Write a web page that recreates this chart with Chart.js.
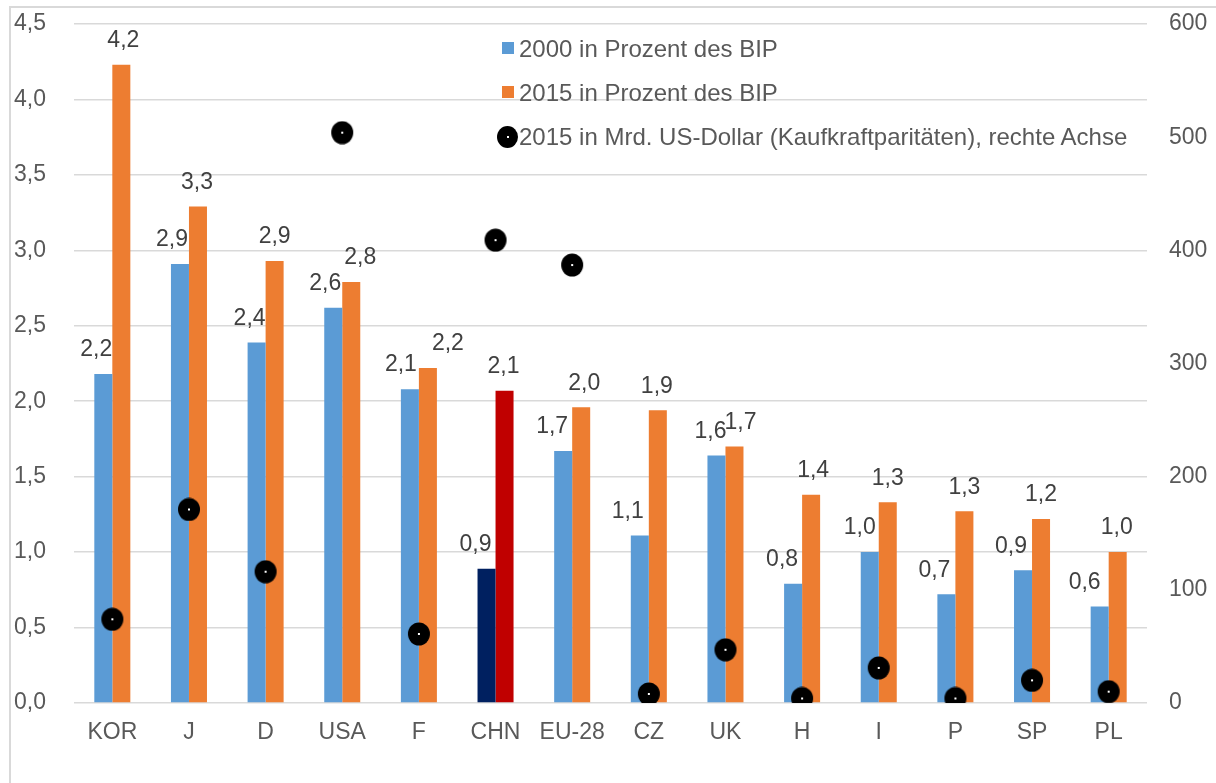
<!DOCTYPE html>
<html lang="de">
<head>
  <meta charset="UTF-8">
  <title>FuE-Ausgaben 2000 / 2015</title>
  <script src="https://cdn.jsdelivr.net/npm/chart.js"></script>
  <style>
    body {
      margin: 0;
      background: #ffffff;
      font-family: "Liberation Sans", Arial, sans-serif;
    }
    .wrap {
      position: relative;
      width: 1216px;
      height: 783px;
    }
    .frame {
      position: absolute;
      left: 9px;
      top: 6px;
      width: 1300px;
      height: 900px;
      border-left: 2px solid #d9d9d9;
      border-top: 2px solid #d9d9d9;
      pointer-events: none;
    }
    canvas {
      position: absolute;
      left: 0;
      top: 0;
    }
    .legend {
      position: absolute;
      left: 490px;
      top: 27px;
      color: #595959;
      font-size: 24px;
    }
    .legend .item {
      position: relative;
      height: 44px;
      line-height: 44px;
      padding-left: 29px;
      white-space: nowrap;
    }
    .legend .box {
      position: absolute;
      left: 12px;
      top: 15px;
      width: 12px;
      height: 12px;
    }
    .legend .dot {
      position: absolute;
      left: 7px;
      top: 11px;
      width: 21px;
      height: 22px;
      border-radius: 50%;
      background: #000;
    }
    .legend .dot::after {
      content: "";
      position: absolute;
      left: 10px;
      top: 10px;
      width: 2px;
      height: 2px;
      background: #fff;
    }
  </style>
</head>
<body>

  <div class="wrap">
    <canvas id="chart" width="1216" height="783"></canvas>
    <div class="frame"></div>
    <div class="legend">
      <div class="item"><span class="box" style="background:#5b9bd5"></span>2000 in Prozent des BIP</div>
      <div class="item"><span class="box" style="background:#ed7d31"></span>2015 in Prozent des BIP</div>
      <div class="item"><span class="dot"></span>2015 in Mrd. US-Dollar (Kaufkraftparitäten), rechte Achse</div>
    </div>
  </div>

  <script>
    const countries = ['KOR', 'J', 'D', 'USA', 'F', 'CHN', 'EU-28', 'CZ', 'UK', 'H', 'I', 'P', 'SP', 'PL'];

    // Anteil am BIP in Prozent
    const pct2000 = [2.18, 2.91, 2.39, 2.62, 2.08, 0.89, 1.67, 1.11, 1.64, 0.79, 1.00, 0.72, 0.88, 0.64];
    const pct2015 = [4.23, 3.29, 2.93, 2.79, 2.22, 2.07, 1.96, 1.94, 1.70, 1.38, 1.33, 1.27, 1.22, 1.00];

    // Mrd. US-Dollar (KKP), rechte Achse
    const usd2015 = [74, 171, 116, 504, 61, 409, 387, 8, 47, 4, 31, 4, 20, 10];

    const leftTicks = [0, 0.5, 1, 1.5, 2, 2.5, 3, 3.5, 4, 4.5];
    const rightTicks = [0, 100, 200, 300, 400, 500, 600];

    // CHN hervorgehoben
    const blueColors = countries.map(c => c === 'CHN' ? '#002060' : '#5b9bd5');
    const orangeColors = countries.map(c => c === 'CHN' ? '#c00000' : '#ed7d31');

    // Verschiebung der Beschriftungen (wie im Original von Hand gesetzt)
    const nudge2000 = [-7, -8, -7, -8, -9, -11, -11, -12, -6, -11, -10, -12, -12, -15];
    const nudge2015 = [2, -1, 0, 9, 20, -1, 3, -1, 6, 2, 0, 0, 0, -1];

    const fmt = v => v.toFixed(1).replace('.', ',');

    // schwarzer Punkt mit weißem Kern
    const dotImg = document.createElement('canvas');
    dotImg.width = 24;
    dotImg.height = 24;
    {
      const c = dotImg.getContext('2d');
      c.fillStyle = '#000';
      c.beginPath();
      c.ellipse(12, 12, 11, 11.5, 0, 0, Math.PI * 2);
      c.fill();
      c.fillStyle = '#fff';
      c.fillRect(11, 11, 2, 2);
    }

    const barLabels = {
      id: 'barLabels',
      afterDatasetsDraw(chart) {
        const ctx = chart.ctx;
        ctx.save();
        ctx.font = '23px "Liberation Sans", Arial, sans-serif';
        ctx.fillStyle = '#404040';
        ctx.textAlign = 'center';
        ctx.textBaseline = 'middle';
        [0, 1].forEach(di => {
          const meta = chart.getDatasetMeta(di);
          const vals = chart.data.datasets[di].data;
          const nudge = di === 0 ? nudge2000 : nudge2015;
          meta.data.forEach((bar, i) => {
            ctx.fillText(fmt(vals[i]), bar.x + nudge[i], bar.y - 24);
          });
        });
        ctx.restore();
      }
    };

    new Chart(document.getElementById('chart'), {
      type: 'bar',
      data: {
        labels: countries,
        datasets: [
          {
            label: '2000 in Prozent des BIP',
            data: pct2000,
            backgroundColor: blueColors,
            yAxisID: 'y',
            order: 2
          },
          {
            label: '2015 in Prozent des BIP',
            data: pct2015,
            backgroundColor: orangeColors,
            yAxisID: 'y',
            order: 2
          },
          {
            type: 'line',
            label: '2015 in Mrd. US-Dollar (Kaufkraftparitäten), rechte Achse',
            data: usd2015,
            yAxisID: 'y2',
            showLine: false,
            pointStyle: dotImg,
            pointRadius: 12,
            pointHoverRadius: 12,
            order: 0
          }
        ]
      },
      options: {
        responsive: false,
        animation: false,
        devicePixelRatio: 1,
        layout: {
          padding: { top: 24, left: 0, right: 0, bottom: 0 }
        },
        datasets: {
          bar: {
            categoryPercentage: 0.47,
            barPercentage: 1.0
          }
        },
        plugins: {
          legend: { display: false },
          tooltip: { enabled: false }
        },
        scales: {
          x: {
            grid: { display: false, drawTicks: false },
            border: { display: false },
            ticks: {
              color: '#595959',
              font: { size: 23, family: '"Liberation Sans", Arial, sans-serif' },
              padding: 16,
              maxRotation: 0
            },
            afterFit(scale) { scale.height = 80; }
          },
          y: {
            position: 'left',
            min: 0,
            max: 4.5,
            afterBuildTicks(scale) { scale.ticks = leftTicks.map(v => ({ value: v })); },
            grid: { color: '#d9d9d9', lineWidth: 1.5, drawTicks: false },
            border: { display: false },
            ticks: {
              color: '#595959',
              font: { size: 23, family: '"Liberation Sans", Arial, sans-serif' },
              padding: 28,
              callback: v => fmt(v)
            },
            afterFit(scale) {
              scale.width = 74;
              scale.paddingTop = 0;
              scale.paddingBottom = 0;
            }
          },
          y2: {
            position: 'right',
            min: 0,
            max: 600,
            afterBuildTicks(scale) { scale.ticks = rightTicks.map(v => ({ value: v })); },
            grid: { display: false, drawTicks: false },
            border: { display: false },
            ticks: {
              color: '#595959',
              font: { size: 23, family: '"Liberation Sans", Arial, sans-serif' },
              padding: 22,
              callback: v => String(v)
            },
            afterFit(scale) {
              scale.width = 69;
              scale.paddingTop = 0;
              scale.paddingBottom = 0;
            }
          }
        }
      },
      plugins: [barLabels]
    });
  </script>

</body>
</html>
